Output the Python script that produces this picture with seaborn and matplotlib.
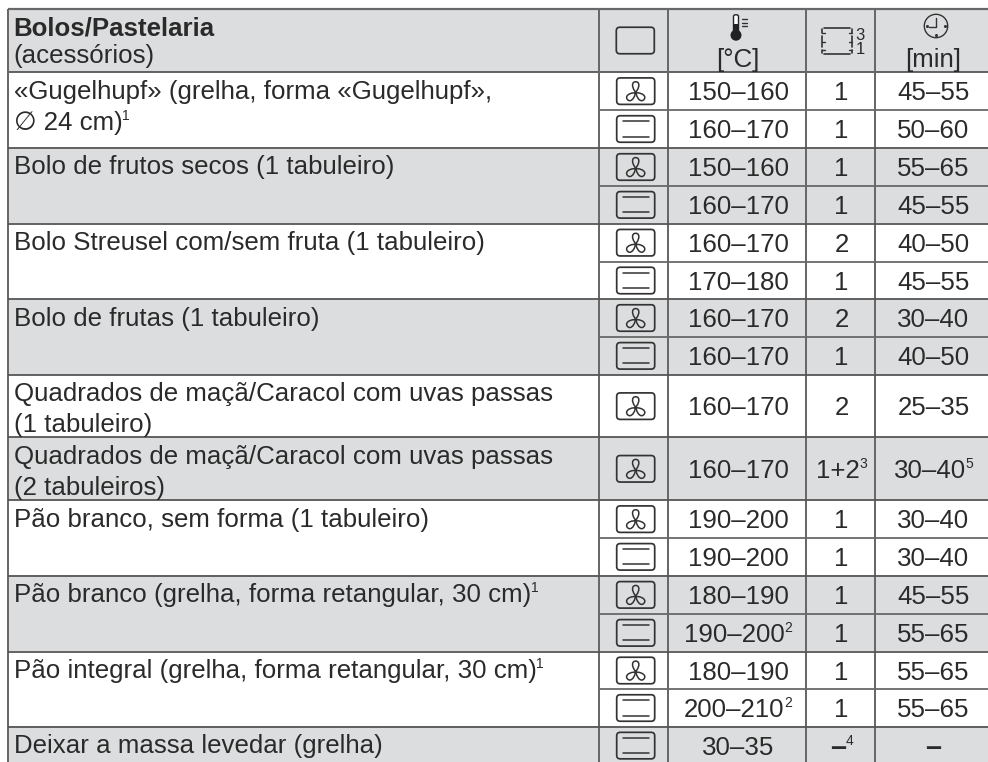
import numpy as np
import matplotlib
matplotlib.use("Agg")
import matplotlib.pyplot as plt
from matplotlib.colors import ListedColormap
from matplotlib.patches import FancyBboxPatch, Circle, PathPatch
from matplotlib.path import Path
from matplotlib.transforms import Affine2D
import seaborn as sns

# ---------- content ----------
header_title = "Bolos/Pastelaria"
header_sub = "(acessórios)"
temp_unit = "[°C]"
time_unit = "[min]"
dish_groups = [
    ["«Gugelhupf» (grelha, forma «Gugelhupf»,", "∅ 24 cm)^1"],
    ["Bolo de frutos secos (1 tabuleiro)"],
    ["Bolo Streusel com/sem fruta (1 tabuleiro)"],
    ["Bolo de frutas (1 tabuleiro)"],
    ["Quadrados de maçã/Caracol com uvas passas", "(1 tabuleiro)"],
    ["Quadrados de maçã/Caracol com uvas passas", "(2 tabuleiros)"],
    ["Pão branco, sem forma (1 tabuleiro)"],
    ["Pão branco (grelha, forma retangular, 30 cm)^1"],
    ["Pão integral (grelha, forma retangular, 30 cm)^1"],
    ["Deixar a massa levedar (grelha)"],
]
group_sizes = [2, 2, 2, 2, 1, 1, 2, 2, 2, 1]
group_shaded = [0, 1, 0, 1, 0, 1, 0, 1, 0, 1]
modes = ["fan", "conv", "fan", "conv", "fan", "conv", "fan", "conv", "fan", "fan",
         "fan", "conv", "fan", "conv", "fan", "conv", "conv"]
temps = ["150–160", "160–170", "150–160", "160–170", "160–170", "170–180", "160–170", "160–170",
         "160–170", "160–170", "190–200", "190–200", "180–190", "190–200^2", "180–190", "200–210^2", "30–35"]
shelves = ["1", "1", "1", "1", "2", "1", "2", "1", "2", "1+2^3", "1", "1", "1", "1", "1", "1", "*–^4"]
times = ["45–55", "50–60", "55–65", "45–55", "40–50", "45–55", "30–40", "40–50", "25–35", "30–40^5",
         "30–40", "30–40", "45–55", "55–65", "55–65", "55–65", "*–"]

# ---------- layout (pixels) ----------
W, H = 988, 762
row_edges = [72.3, 110, 148, 186, 223.7, 261.7, 299.3, 336.7, 375, 437.3, 500.3,
             538, 575.7, 614, 651.7, 689.3, 726.7, 764.5]
top = 9
col_edges = [7.5, 599, 668, 806, 875, W]
GREY = "#dcddde"
LINE = "#686868"
INK = "#2a2a2a"
ICON = "#333333"
FS = 18.6
SUP = 10

sns.set_theme(style="white")
plt.rcParams["font.family"] = ["Liberation Sans", "DejaVu Sans"]

# shading mask drawn as a heatmap whose cells are the image pixels
mask = np.zeros((H, W))
left = int(round(col_edges[0]))
mask[top:int(row_edges[0]), left:] = 1
r = 0
for size, shaded in zip(group_sizes, group_shaded):
    if shaded:
        mask[int(row_edges[r]):min(H, int(row_edges[r + size])), left:] = 1
    r += size

fig = plt.figure(figsize=(W / 100, H / 100), dpi=100)
ax = fig.add_axes([0, 0, 1, 1])
sns.heatmap(mask, ax=ax, cbar=False, cmap=ListedColormap(["white", GREY]), vmin=0, vmax=1,
            xticklabels=False, yticklabels=False, rasterized=True)
ax.set_xlim(0, W)
ax.set_ylim(H, 0)
ax.axis("off")
fig.patch.set_facecolor("white")
renderer = fig.canvas.get_renderer()


def width(t):
    return t.get_window_extent(renderer).width


def put(x, y, s, ha="left", size=FS, weight="normal"):
    """Text at baseline y; a trailing ^n is a superscript; leading * means a heavy dash."""
    sup_y = y - 10
    if s.startswith("*"):
        weight = "bold"
        s = s[1:]
        size = FS * 1.12
        y = y + 0.8
    main, _, sup = s.partition("^")
    t = ax.text(x, y, main, fontsize=size, color=INK, va="baseline", ha="left", fontweight=weight)
    w = width(t)
    st = None
    sw = 0
    if sup:
        st = ax.text(x, sup_y, sup, fontsize=SUP, color=INK, va="baseline", ha="left")
        sw = width(st)
    x0 = x if ha == "left" else x - (w + sw) / 2
    t.set_x(x0)
    if st is not None:
        st.set_x(x0 + w)


# ---------- grid ----------
def hl(y, x0, x1, lw=1.5, c=LINE):
    ax.plot([x0, x1], [y, y], color=c, lw=lw * 0.72, solid_capstyle="butt", zorder=3)


def vl(x, y0, y1, lw=2.0, c=LINE):
    ax.plot([x, x], [y0, y1], color=c, lw=lw * 0.72, solid_capstyle="butt", zorder=3)


hl(top, col_edges[0], W, 2.2)
hl(row_edges[0], col_edges[0], W, 1.8, "#555555")
for x in col_edges[:-1]:
    vl(x, top, H)
r = 0
for size in group_sizes:
    hl(row_edges[r + size], col_edges[0], W, 1.8, "#555555")
    for k in range(1, size):
        hl(row_edges[r + k], col_edges[1], W, 1.8)
    r += size


# ---------- icons ----------
def box(cx, cy, w=38, h=26.5):
    ax.add_patch(FancyBboxPatch((cx - w / 2 + 3, cy - h / 2 + 3), w - 6, h - 6,
                                boxstyle="round,pad=3,rounding_size=3.5",
                                fc="none", ec=ICON, lw=1.25, zorder=4))


BLADE = Path([(0, 0), (-1.2, -2), (-3.8, -5.5), (-4.2, -10.8), (0, -10.8),
              (4.2, -10.8), (3.8, -5.5), (1.2, -2), (0, 0)],
             [Path.MOVETO, Path.LINETO, Path.CURVE4, Path.CURVE4, Path.CURVE4,
              Path.CURVE4, Path.CURVE4, Path.CURVE4, Path.LINETO])


def fan(cx, cy):
    box(cx, cy)
    for ang in (0, 130, 230):
        tr = Affine2D().rotate_deg(ang).translate(cx, cy + 1.4) + ax.transData
        ax.add_patch(PathPatch(BLADE, fc="none", ec=ICON, lw=1.1, transform=tr, zorder=4))


def conv(cx, cy):
    box(cx, cy)
    for dy in (-7.8, 7.6):
        ax.plot([cx - 12.8, cx + 12.8], [cy + dy, cy + dy], color=ICON, lw=1.1, zorder=4)


icon_cx = (col_edges[1] + col_edges[2]) / 2 + 2.2
for i, m in enumerate(modes):
    cy = (row_edges[i] + row_edges[i + 1]) / 2
    (fan if m == "fan" else conv)(icon_cx, cy)

# header icons
box(635.3, 40.5)

# thermometer
tx = 736
ax.add_patch(FancyBboxPatch((tx - 1.8, 15.5), 3.6, 18, boxstyle="round,pad=0.7,rounding_size=1.8",
                            fc="white", ec="#222222", lw=1.0, zorder=4))
ax.plot([tx, tx], [24, 34], color="#222222", lw=3.2, solid_capstyle="butt", zorder=4)
ax.add_patch(Circle((tx, 35.2), 5.5, fc="#222222", ec="none", zorder=5))
for y in (19, 22.5, 26):
    ax.plot([tx + 6, tx + 10.8], [y, y], color=ICON, lw=1.0, zorder=4)

# shelf icon
sx0, sx1, sy0, sy1 = 822, 851.5, 28, 54
for y in (sy0, sy1):
    ax.plot([sx0 + 2, sx1 - 2], [y, y], color=ICON, lw=1.2, zorder=4)
for x, d in ((sx0, 2.5), (sx1, -2.5)):
    for a, b in ((sy0 + 1, sy0 + 4.5), (sy0 + 8, sy0 + 19), (sy1 - 4, sy1 - 1)):
        ax.plot([x, x], [a, b], color=ICON, lw=1.2, zorder=4)
    for y in (33, 41.5, 50):
        ax.plot([x, x + d], [y, y], color=ICON, lw=1.0, zorder=4)
put(860.2, 39.8, "3", ha="center", size=12)
put(860.2, 54.5, "1", ha="center", size=12)

# clock
ccx, ccy = 936, 26
ax.add_patch(Circle((ccx, ccy), 11.7, fc="none", ec=ICON, lw=1.0, zorder=4))
ax.plot([ccx - 7, ccx, ccx], [ccy + 1, ccy + 1, ccy - 8], color=ICON, lw=1.0, zorder=4)
ax.plot([ccx, ccx - 9, ccx + 9], [ccy + 9, ccy, ccy], ls="none", marker="o", ms=1.2, color=ICON, zorder=4)

# ---------- texts ----------
put(13.5, 35.5, header_title, weight="bold")
put(13.5, 63.5, header_sub)
put((col_edges[2] + col_edges[3]) / 2 + 1, 67, temp_unit, ha="center")
put((col_edges[4] + W) / 2 + 2, 67, time_unit, ha="center")

r = 0
for lines, size in zip(dish_groups, group_sizes):
    y = row_edges[r] + 26.3
    for line in lines:
        put(13.5, y, line)
        y += 31
    r += size

for i in range(len(temps)):
    base = (row_edges[i] + row_edges[i + 1]) / 2 + 9.3
    put((col_edges[2] + col_edges[3]) / 2 + 1, base, temps[i], ha="center")
    put((col_edges[3] + col_edges[4]) / 2 + 1, base, shelves[i], ha="center")
    put((col_edges[4] + W) / 2 + 2, base, times[i], ha="center")

fig.savefig("out.png", dpi=100, facecolor="white")
